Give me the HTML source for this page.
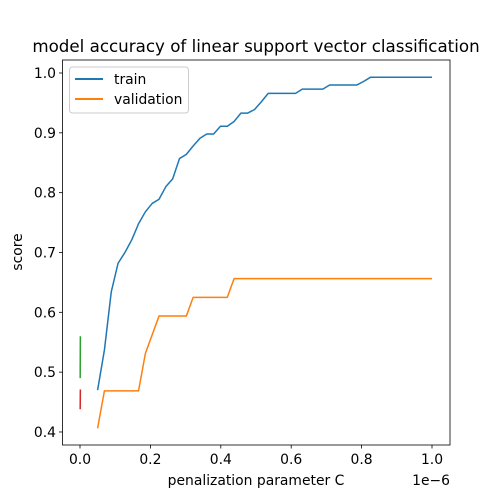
<!DOCTYPE html>
<html><head><meta charset="utf-8"><style>
body{margin:0;background:#fff;}
svg{display:block;font-family:"DejaVu Sans","Liberation Sans",sans-serif;}
</style></head><body>
<svg id="chart" width="500" height="500" xmlns="http://www.w3.org/2000/svg">
<rect width="500" height="500" fill="#fff"/>
<text x="256" y="52" font-size="16.7" text-anchor="middle">model accuracy of linear support vector classification</text>
<g id="plot"></g>
<rect x="62.5" y="60" width="387.5" height="385" fill="none" stroke="#000" stroke-width="0.8"/>
<text x="256" y="485" font-size="13.9" text-anchor="middle">penalization parameter C</text>
<text x="450" y="485" font-size="13.9" text-anchor="end">1e−6</text>
<text transform="translate(22,252) rotate(-90)" font-size="13.9" text-anchor="middle">score</text>
<g>
<rect x="69.5" y="67" width="119" height="46" rx="3" fill="#fff" fill-opacity="0.8" stroke="#ccc"/>
<line x1="75" y1="79" x2="103" y2="79" stroke="#1f77b4" stroke-width="2"/>
<text x="114" y="84" font-size="13.9">train</text>
<line x1="75" y1="99" x2="103" y2="99" stroke="#ff7f0e" stroke-width="2"/>
<text x="114" y="104" font-size="13.9">validation</text>
</g>
</svg>
<script>
const trainScores=[0.470,0.537,0.634,0.682,0.700,0.721,0.748,0.768,0.782,0.789,0.810,0.823,0.857,0.864,0.878,0.891,0.898,0.898,0.911,0.911,0.919,0.933,0.933,0.939,0.952,0.966,0.966,0.966,0.966,0.966,0.973,0.973,0.973,0.973,0.980,0.980,0.980,0.980,0.980,0.986,0.993,0.993,0.993,0.993,0.993,0.993,0.993,0.993,0.993,0.993];
const valScores=[0.40625,0.46875,0.46875,0.46875,0.46875,0.46875,0.46875,0.53125,0.5625,0.59375,0.59375,0.59375,0.59375,0.59375,0.625,0.625,0.625,0.625,0.625,0.625,0.65625,0.65625,0.65625,0.65625,0.65625,0.65625,0.65625,0.65625,0.65625,0.65625,0.65625,0.65625,0.65625,0.65625,0.65625,0.65625,0.65625,0.65625,0.65625,0.65625,0.65625,0.65625,0.65625,0.65625,0.65625,0.65625,0.65625,0.65625,0.65625,0.65625];
const cStart=0.05, cEnd=1.0;
const greenX=[0.001,0.0005];
const greenY=[0.56,0.49];
const redX=[0.001,0.0005];
const redY=[0.471,0.438];
const xTicks=[0.0,0.2,0.4,0.6,0.8,1.0];
const xTickLabels=["0.0","0.2","0.4","0.6","0.8","1.0"];
const yTicks=[0.4,0.5,0.6,0.7,0.8,0.9,1.0];
const yTickLabels=["0.4","0.5","0.6","0.7","0.8","0.9","1.0"];

const NS="http://www.w3.org/2000/svg";
const sx=v=>80+v*352;
const sy=v=>73+(1.0-v)*598.3;
const g=document.getElementById('plot');
function mk(tag,attrs){const e=document.createElementNS(NS,tag);for(const k in attrs)e.setAttribute(k,attrs[k]);g.appendChild(e);return e;}
xTicks.forEach((t,i)=>{
  const l=mk('line',{x1:sx(t),x2:sx(t),y1:445,y2:448.5,stroke:'#000','stroke-width':0.8});
  
  
  const tx=mk('text',{x:sx(t),y:464,'font-size':13.9,'text-anchor':'middle'});
  tx.textContent=xTickLabels[i];
  
  
});
yTicks.forEach((t,i)=>{
  const l=mk('line',{x1:59,x2:62.5,y1:sy(t),y2:sy(t),stroke:'#000','stroke-width':0.8});
  
  
  const tx=mk('text',{x:56,y:sy(t)+5,'font-size':13.9,'text-anchor':'end'});
  tx.textContent=yTickLabels[i];
  
  
});
function xsFor(n){const a=[];for(let i=0;i<n;i++)a.push(cStart+(cEnd-cStart)*i/(n-1));return a;}
function line(xs,ys,color,name){
  const pts=xs.map((x,i)=>sx(x).toFixed(2)+','+sy(ys[i]).toFixed(2)).join(' ');
  const p=mk('polyline',{points:pts,fill:'none',stroke:color,'stroke-width':1.5,'stroke-linejoin':'round'});
  
  
}
line(xsFor(trainScores.length),trainScores,'#1f77b4','train-line');
line(xsFor(valScores.length),valScores,'#ff7f0e','validation-line');
line(greenX,greenY,'#2ca02c','green-line');
line(redX,redY,'#d62728','red-line');
</script>
</body></html>
